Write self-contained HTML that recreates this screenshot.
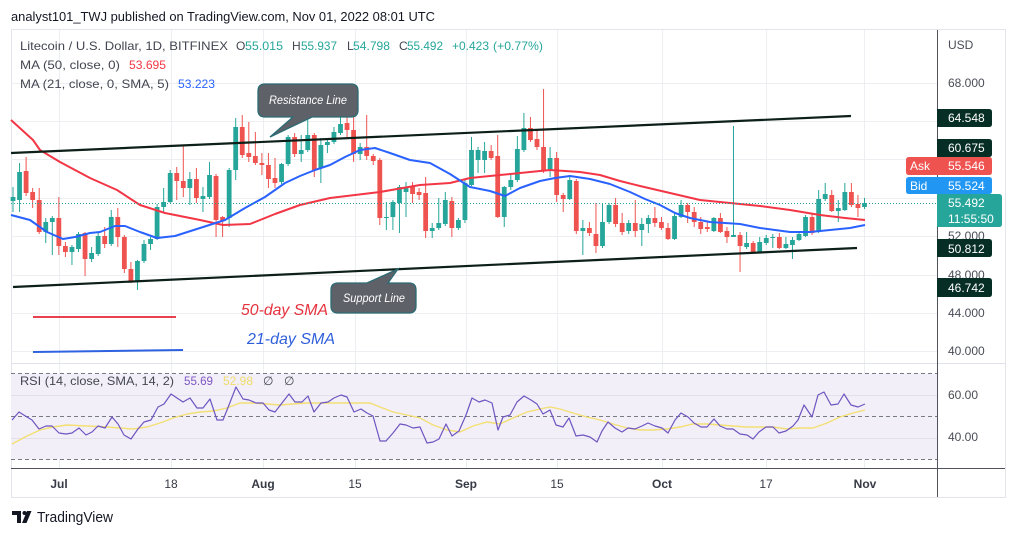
<!DOCTYPE html>
<html><head><meta charset="utf-8"><style>
html,body{margin:0;padding:0;background:#fff;}
svg{display:block;font-family:"Liberation Sans",Arial,sans-serif;}
</style></head><body>
<svg id="s" width="1017" height="536" viewBox="0 0 1017 536" xmlns="http://www.w3.org/2000/svg">
<rect x="0" y="0" width="1017" height="536" fill="#fff"/>
<text x="11" y="21" font-size="13" fill="#131722" textLength="424" lengthAdjust="spacingAndGlyphs">analyst101_TWJ published on TradingView.com, Nov 01, 2022 08:01 UTC</text>
<rect x="11.5" y="29.5" width="994" height="468" fill="#fff" stroke="#e3e5ea"/>
<!-- grid -->
<g stroke="#eceef2" stroke-width="1">
<line x1="59.5" y1="30" x2="59.5" y2="468"/><line x1="171.5" y1="30" x2="171.5" y2="468"/>
<line x1="263.5" y1="30" x2="263.5" y2="468"/><line x1="355.5" y1="30" x2="355.5" y2="468"/>
<line x1="466.5" y1="30" x2="466.5" y2="468"/><line x1="557.5" y1="30" x2="557.5" y2="468"/>
<line x1="662.5" y1="30" x2="662.5" y2="468"/><line x1="766.5" y1="30" x2="766.5" y2="468"/>
<line x1="864.5" y1="30" x2="864.5" y2="468"/>
<line x1="11" y1="83.5" x2="937" y2="83.5"/><line x1="11" y1="121.5" x2="937" y2="121.5"/>
<line x1="11" y1="159.5" x2="937" y2="159.5"/><line x1="11" y1="198.5" x2="937" y2="198.5"/>
<line x1="11" y1="236.5" x2="937" y2="236.5"/><line x1="11" y1="275.5" x2="937" y2="275.5"/>
<line x1="11" y1="313.5" x2="937" y2="313.5"/><line x1="11" y1="351.5" x2="937" y2="351.5"/>
</g>
<line x1="11" y1="363.5" x2="1005" y2="363.5" stroke="#e0e3eb"/>
<!-- RSI pane -->
<rect x="11" y="373.5" width="926" height="86" fill="#f2eff9"/>
<g stroke="#e2e0ea"><line x1="11" y1="395.5" x2="937" y2="395.5"/><line x1="11" y1="438.5" x2="937" y2="438.5"/></g>
<g stroke="#787b86" stroke-dasharray="4,3" stroke-width="1">
<line x1="11" y1="373.5" x2="937" y2="373.5"/><line x1="11" y1="416.5" x2="937" y2="416.5"/><line x1="11" y1="459.5" x2="937" y2="459.5"/>
</g>
<polyline fill="none" stroke="#f3df72" stroke-width="1.4" points="12,444 27,436 40,430 53,427 67,425 87,426 107,427 120,428 133,429 147,427 160,423 173,418 187,414 200,412 213,411 227,408 240,403 253,403 267,404 280,405 293,404 307,403 320,403 333,403 347,403 360,403 370,403 380,407 393,412 407,415 420,418 433,425 447,430 460,432 473,426 487,422 500,424 513,418 527,412 540,409 550,407 560,409 573,413 587,417 600,420 613,424 627,428 640,430 653,430 667,429 680,427 693,424 707,424 720,425 733,426 747,427 760,427 773,427 787,429 800,428 813,428 827,423 840,417 853,413 865,410"/>
<polyline fill="none" stroke="#6f55c0" stroke-width="1.2" stroke-linejoin="round" points="12,420 19,412 27,417 32,420 39,429 46,426 52,426 59,433 66,434 72,433 79,428 86,435 92,432 98,426 105,428 112,417 118,424 124,435 131,439 138,429 144,422 151,420 158,407 164,404 171,394 177,398 183,402 190,398 197,408 203,408 210,399 217,420 223,420 229,405 236,387 243,399 249,400 256,403 263,403 269,410 275,412 282,403 289,394 295,402 302,402 308,396 314,412 321,403 328,402 334,398 341,395 347,397 354,412 361,409 367,413 373,416 380,441 386,441 393,433 400,424 406,425 413,428 420,427 427,443 433,442 439,439 446,424 452,436 459,431 466,415 472,398 479,402 485,400 492,403 498,430 503,417 510,415 517,402 524,396 531,400 537,404 543,414 550,410 556,425 563,427 569,418 576,436 583,435 590,437 597,442 602,431 608,422 615,428 622,432 628,428 635,429 642,426 648,423 655,426 662,428 668,433 675,420 681,413 688,417 694,423 701,427 707,427 714,419 720,426 727,429 733,429 740,434 747,435 753,439 759,432 766,427 773,427 779,433 786,431 793,426 798,420 804,405 812,417 818,395 824,392 831,405 838,404 844,394 851,405 858,407 865,404"/>
<!-- candles -->
<g id="candles"></g>
<!-- MAs -->
<polyline fill="none" stroke="#f23645" stroke-width="2" stroke-linejoin="round" points="11,120 22,130 33,140 40,150 60,162 90,178 117,190 140,205 165,213 200,220 223,225 250,224 275,214 300,205 330,198 355,195 380,192 420,185 450,183 470,178 500,175 530,172 550,170 580,172 600,175 620,181 640,186 670,193 700,200 730,203 760,206 790,210 820,215 845,218 865,220"/>
<polyline fill="none" stroke="#2962ff" stroke-width="2" stroke-linejoin="round" points="11,215 30,220 47,232 63,239 75,237 90,233 100,232 115,226 125,226 140,232 157,238 175,236 200,228 225,220 245,208 265,197 285,183 300,176 315,170 330,165 345,157 360,150 375,148 390,153 410,160 430,163 450,174 470,187 490,191 505,196 520,188 540,181 555,178 570,176 590,179 610,184 630,192 645,199 660,205 675,213 690,218 710,222 740,224 760,228 790,232 810,232 830,230 850,228 865,225"/>
<line x1="11" y1="203.5" x2="937" y2="203.5" stroke="#26a69a" stroke-dasharray="1,2"/>
<!-- channel -->
<line x1="11" y1="153" x2="851" y2="116" stroke="#0c1f18" stroke-width="2.2"/>
<line x1="13" y1="287" x2="857" y2="248" stroke="#0c1f18" stroke-width="2.2"/>
<!-- callouts -->
<path d="M265,84 H351 Q358,84 358,91 V110 Q358,117 351,117 H312 L270,137 L293,117 H265 Q258,117 258,110 V91 Q258,84 265,84 Z" fill="#5e6168" stroke="#2b6b74" stroke-width="1.3"/>
<text x="269" y="104" font-size="12" font-style="italic" fill="#fff" textLength="78" lengthAdjust="spacingAndGlyphs">Resistance Line</text>
<path d="M338,283 H367 L398,269 L388,283 H409 Q416,283 416,290 V306 Q416,313 409,313 H338 Q331,313 331,306 V290 Q331,283 338,283 Z" fill="#5e6168" stroke="#2b6b74" stroke-width="1.3"/>
<text x="343" y="302" font-size="12" font-style="italic" fill="#fff" textLength="62" lengthAdjust="spacingAndGlyphs">Support Line</text>
<!-- SMA annotations -->
<line x1="33" y1="317" x2="176" y2="317" stroke="#e8414f" stroke-width="2"/>
<line x1="33" y1="352" x2="183" y2="350" stroke="#2f62e0" stroke-width="2"/>
<text x="241" y="315" font-size="16" font-style="italic" fill="#e5323e" textLength="87" lengthAdjust="spacingAndGlyphs">50-day SMA</text>
<text x="247" y="344" font-size="16" font-style="italic" fill="#2f5fd9" textLength="88" lengthAdjust="spacingAndGlyphs">21-day SMA</text>
<!-- legend -->
<g font-size="12" lengthAdjust="spacingAndGlyphs">
<text x="20" y="50" fill="#434651" textLength="208" lengthAdjust="spacingAndGlyphs">Litecoin / U.S. Dollar, 1D, BITFINEX</text>
<text x="236" y="50" fill="#434651">O</text><text x="245" y="50" fill="#26a69a" textLength="38" lengthAdjust="spacingAndGlyphs">55.015</text>
<text x="292" y="50" fill="#434651">H</text><text x="301" y="50" fill="#26a69a" textLength="36" lengthAdjust="spacingAndGlyphs">55.937</text>
<text x="347" y="50" fill="#434651">L</text><text x="353" y="50" fill="#26a69a" textLength="37" lengthAdjust="spacingAndGlyphs">54.798</text>
<text x="399" y="50" fill="#434651">C</text><text x="407" y="50" fill="#26a69a" textLength="36" lengthAdjust="spacingAndGlyphs">55.492</text>
<text x="452" y="50" fill="#26a69a" textLength="37" lengthAdjust="spacingAndGlyphs">+0.423</text>
<text x="493" y="50" fill="#26a69a" textLength="50" lengthAdjust="spacingAndGlyphs">(+0.77%)</text>
<text x="20" y="69" fill="#434651" textLength="100" lengthAdjust="spacingAndGlyphs">MA (50, close, 0)</text>
<text x="129" y="69" fill="#f23645" textLength="37" lengthAdjust="spacingAndGlyphs">53.695</text>
<text x="20" y="88" fill="#434651" textLength="149" lengthAdjust="spacingAndGlyphs">MA (21, close, 0, SMA, 5)</text>
<text x="178" y="88" fill="#2962ff" textLength="37" lengthAdjust="spacingAndGlyphs">53.223</text>
<text x="20" y="385" fill="#434651" textLength="154" lengthAdjust="spacingAndGlyphs">RSI (14, close, SMA, 14, 2)</text>
<text x="184" y="385" fill="#7e57c2" textLength="29" lengthAdjust="spacingAndGlyphs">55.69</text>
<text x="223" y="385" fill="#f0dc6a" textLength="30" lengthAdjust="spacingAndGlyphs">52.98</text>
<text x="263" y="385" fill="#434651">∅</text><text x="284" y="385" fill="#434651">∅</text>
</g>
<!-- axes lines -->
<line x1="937.5" y1="30" x2="937.5" y2="497" stroke="#50535e"/>
<line x1="11" y1="468.5" x2="1005" y2="468.5" stroke="#50535e"/>
<!-- price axis -->
<g font-size="12" fill="#4a4d57">
<text x="948" y="49">USD</text>
<text x="948" y="87">68.000</text>
<text x="948" y="240">52.000</text>
<text x="948" y="279">48.000</text>
<text x="948" y="317">44.000</text>
<text x="948" y="355">40.000</text>
<text x="948" y="399">60.00</text>
<text x="948" y="441">40.00</text>
</g>
<g font-size="12" fill="#fff">
<path d="M937,109 H989 Q992,109 992,112 V124 Q992,127 989,127 H937 Z" fill="#062e25"/>
<text x="948" y="122">64.548</text>
<path d="M937,139 H989 Q992,139 992,142 V154 Q992,157 989,157 H937 Z" fill="#062e25"/>
<text x="948" y="152">60.675</text>
<path d="M909,157 H989 Q992,157 992,160 V172 Q992,175 989,175 H909 Q906,175 906,172 V160 Q906,157 909,157 Z" fill="#ef5350"/>
<text x="910" y="170">Ask</text><text x="948" y="170">55.546</text>
<path d="M909,177 H989 Q992,177 992,180 V191 Q992,194 989,194 H909 Q906,194 906,191 V180 Q906,177 909,177 Z" fill="#2196f3"/>
<text x="910" y="190">Bid</text><text x="948" y="190">55.524</text>
<path d="M937,194 H999 Q1002,194 1002,197 V224 Q1002,227 999,227 H937 Z" fill="#26a69a"/>
<text x="948" y="207">55.492</text><text x="948" y="223">11:55:50</text>
<path d="M937,239 H989 Q992,239 992,242 V254 Q992,257 989,257 H937 Z" fill="#062e25"/>
<text x="948" y="253">50.812</text>
<path d="M937,278 H989 Q992,278 992,281 V294 Q992,297 989,297 H937 Z" fill="#062e25"/>
<text x="948" y="292">46.742</text>
</g>
<!-- time axis -->
<g font-size="12" fill="#363a45" text-anchor="middle">
<text x="59" y="488" font-weight="bold">Jul</text>
<text x="171" y="488">18</text>
<text x="263" y="488" font-weight="bold">Aug</text>
<text x="355" y="488">15</text>
<text x="466" y="488" font-weight="bold">Sep</text>
<text x="557" y="488">15</text>
<text x="662" y="488" font-weight="bold">Oct</text>
<text x="766" y="488">17</text>
<text x="865" y="488" font-weight="bold">Nov</text>
</g>
<!-- logo -->
<g fill="#131722">
<rect x="12" y="511" width="9" height="4"/>
<rect x="17" y="511" width="4" height="12"/>
<circle cx="24.5" cy="513" r="2"/>
<polygon points="27,511 31.5,511 26.5,523 22,523"/>
</g>
<text x="37" y="522" font-size="15" fill="#131722" textLength="76" lengthAdjust="spacingAndGlyphs">TradingView</text>
</svg>
<script>
(function(){
var D=[
[1,197,201,187,212],[1,172,200,163,212],[0,171,193,157,196],[0,192,200,188,208],[0,200,232,188,234],
[1,222,232,218,243],[1,218,222,216,255],[0,218,246,197,255],[0,246,252,242,257],[1,247,252,245,265],
[1,234,249,232,252],[0,233,259,232,276],[1,253,259,247,262],[1,236,254,232,256],[0,236,244,227,248],
[1,217,244,210,246],[0,217,237,208,247],[0,237,269,235,273],[0,269,282,262,283],[1,261,282,260,290],
[1,244,261,240,263],[1,239,244,237,250],[1,207,239,204,240],[1,202,207,188,213],[1,173,202,170,203],
[0,173,181,167,200],[0,181,188,145,197],[1,179,188,172,205],[0,179,198,168,203],[1,196,199,187,212],
[1,175,197,162,199],[0,176,220,174,237],[0,217,221,216,237],[1,170,218,168,227],[1,127,170,118,180],
[0,127,155,115,158],[0,153,157,122,162],[0,156,163,132,165],[0,163,165,153,175],[0,165,179,153,188],
[0,178,183,158,188],[1,164,182,163,184],[1,137,164,135,166],[0,137,154,133,157],[1,150,154,135,162],
[1,135,150,117,152],[0,135,170,133,177],[1,145,168,138,183],[1,142,145,138,153],[1,132,142,127,144],
[1,124,133,107,135],[0,123,130,107,137],[0,130,154,110,162],[1,147,154,143,160],[0,147,156,115,160],
[0,156,161,154,165],[0,160,218,158,225],[1,217,218,202,230],[1,202,217,200,230],[1,187,203,185,233],
[1,187,192,182,217],[0,187,194,182,203],[0,192,195,188,200],[0,193,231,177,238],[1,228,231,223,238],
[1,223,228,198,230],[1,200,224,192,226],[0,201,228,197,237],[1,220,228,218,230],[1,183,220,180,223],
[1,150,185,137,186],[1,150,160,147,173],[1,151,160,142,173],[0,151,158,145,160],[0,156,217,135,218],
[1,187,217,186,227],[1,180,187,173,190],[1,149,180,136,182],[1,128,150,113,152],[0,128,140,117,142],
[0,139,147,130,150],[0,147,170,89,173],[1,158,170,147,177],[0,158,195,152,202],[0,195,199,193,212],
[1,180,199,175,200],[0,181,231,179,234],[1,228,231,220,255],[0,228,233,222,236],[0,234,246,203,253],
[1,222,246,203,248],[1,205,222,203,224],[0,205,224,198,227],[0,223,232,213,235],[1,223,231,220,234],
[0,223,231,200,237],[1,224,230,218,246],[1,218,224,215,233],[0,218,223,207,227],[0,222,228,217,230],
[0,228,239,223,240],[1,216,239,213,240],[1,205,217,200,218],[0,205,212,203,223],[0,212,222,207,227],
[0,222,229,217,234],[0,227,229,222,232],[1,218,231,217,232],[0,218,232,213,233],[0,231,237,227,243],
[1,235,237,126,237],[0,235,246,232,272],[1,243,247,232,249],[0,243,252,241,253],[1,242,252,237,253],
[1,238,243,235,245],[1,237,238,234,248],[0,237,248,233,249],[1,244,248,237,249],[1,240,245,237,259],
[1,234,240,232,241],[1,217,236,215,237],[0,217,233,213,235],[1,199,232,190,233],[1,194,199,183,201],
[0,195,211,190,212],[1,208,211,200,222],[1,192,210,183,211],[0,192,205,183,207],[0,204,208,195,217],
[1,203,207,198,209]
];
var g=document.getElementById('candles'),ns='http://www.w3.org/2000/svg',h='';
for(var i=0;i<D.length;i++){
 var d=D[i],x=13+i*6.55,c=d[0]?'#26a69a':'#ef5350';
 var bh=Math.max(1,d[2]-d[1]);
 h+='<line x1="'+x.toFixed(2)+'" y1="'+d[3]+'" x2="'+x.toFixed(2)+'" y2="'+d[4]+'" stroke="'+c+'" stroke-width="1"/>';
 h+='<rect x="'+(x-2.4).toFixed(2)+'" y="'+d[1]+'" width="4.8" height="'+bh+'" fill="'+c+'"/>';
}
g.innerHTML=h;
})();
</script>
</body></html>
